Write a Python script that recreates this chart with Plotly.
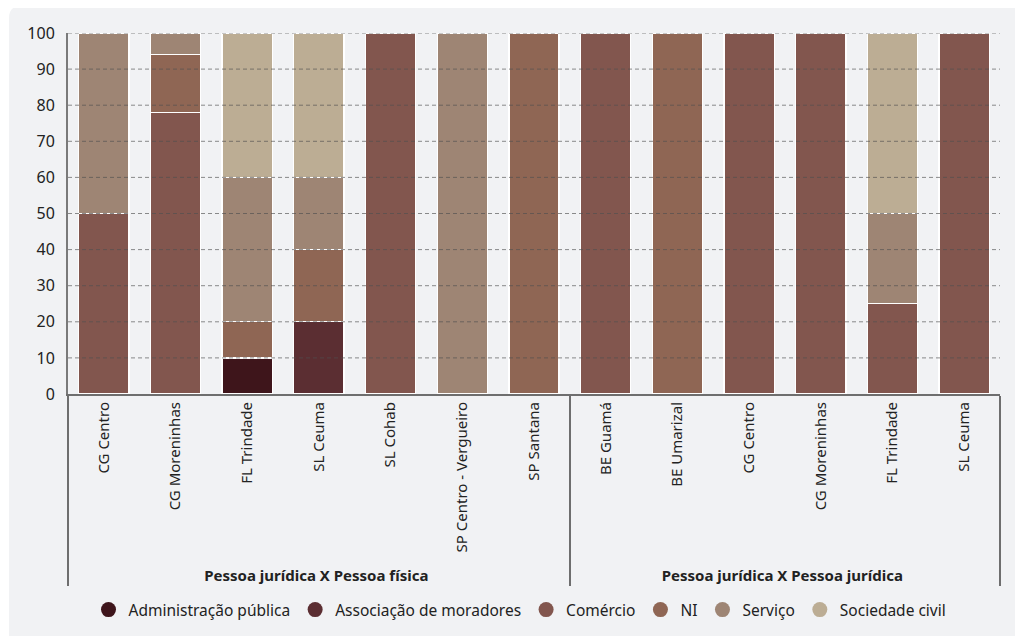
import plotly.graph_objects as go

# groups and stations (two-level x axis)
groups = ["Pessoa jurídica X Pessoa física"] * 7 + ["Pessoa jurídica X Pessoa jurídica"] * 6
stations = ["CG Centro", "CG Moreninhas", "FL Trindade", "SL Ceuma", "SL Cohab",
            "SP Centro - Vergueiro", "SP Santana",
            "BE Guamá", "BE Umarizal", "CG Centro", "CG Moreninhas", "FL Trindade", "SL Ceuma"]

# percentage shares per category
admin_publica = [0, 0, 10, 0, 0, 0, 0, 0, 0, 0, 0, 0, 0]
assoc_moradores = [0, 0, 0, 20, 0, 0, 0, 0, 0, 0, 0, 0, 0]
comercio = [50, 78, 0, 0, 100, 0, 0, 100, 0, 100, 100, 25, 100]
ni = [0, 16, 10, 20, 0, 0, 100, 0, 100, 0, 0, 0, 0]
servico = [50, 6, 40, 20, 0, 100, 0, 0, 0, 0, 0, 25, 0]
sociedade_civil = [0, 0, 40, 40, 0, 0, 0, 0, 0, 0, 0, 50, 0]

y_ticks = [0, 10, 20, 30, 40, 50, 60, 70, 80, 90, 100]

SERIES = [
    ("Administração pública", admin_publica, "#3e151b"),
    ("Associação de moradores", assoc_moradores, "#5b2e32"),
    ("Comércio", comercio, "#82564e"),
    ("NI", ni, "#8f6654"),
    ("Serviço", servico, "#9e8574"),
    ("Sociedade civil", sociedade_civil, "#bcad94"),
]

FONT = "Noto Sans"
group_labels = ["<b>" + g + "</b>" for g in groups]

# plotly orders multicategory sub-labels by first appearance, so repeated
# station names in the second group get a harmless span wrapper to stay unique
seen = set()
station_labels = []
for s in stations:
    station_labels.append(f"<span>{s}</span>" if s in seen else s)
    seen.add(s)

fig = go.Figure()
for name, vals, color in SERIES:
    fig.add_trace(go.Bar(
        x=[group_labels, station_labels],
        y=[v if v else None for v in vals],
        name=name,
        marker=dict(color=color, line=dict(color="white", width=1.3)),
        showlegend=False,
    ))

# legend entries with round markers
for name, vals, color in SERIES:
    fig.add_trace(go.Scatter(
        x=[[group_labels[0]], [station_labels[0]]], y=[None],
        mode="markers", name=name,
        marker=dict(symbol="circle", size=15, color=color),
    ))

# dashed grid drawn above the bars
for t in y_ticks[1:]:
    fig.add_hline(y=t, line=dict(color="rgba(80,80,80,0.65)", width=1, dash="4px,3px"),
                  layer="above")

# page body adds an 8px offset, so the figure is 8px smaller on each side
W, H = 1015, 628
L, R, T, B = 60, 23, 25, 242
pw, ph = W - L - R, H - T - B

# light panel behind everything
x0, x1 = (1 - L) / pw, (W + 20 - L) / pw
y0, y1 = -(B + 20) / ph, (ph + T + 2) / ph
dx, dy = 12 / pw, 12 / ph
fig.add_shape(type="path", xref="paper", yref="paper", layer="below",
              path=f"M {x0},{y1 - dy} Q {x0},{y1} {x0 + dx},{y1} L {x1},{y1} "
                   f"L {x1},{y0} L {x0},{y0} Z",
              fillcolor="#f1f2f4", line=dict(width=0))

fig.update_layout(
    barmode="stack",
    bargap=0.3,
    width=W, height=H,
    margin=dict(l=L, r=R, t=T, b=B),
    paper_bgcolor="white",
    plot_bgcolor="rgba(0,0,0,0)",
    font=dict(family=FONT, size=14, color="#222"),
    legend=dict(orientation="h", x=(512 - L) / pw, xanchor="center",
                yref="container", y=26 / H, yanchor="middle",
                bgcolor="rgba(0,0,0,0)", font=dict(size=15.5),
                itemwidth=30, traceorder="normal"),
    xaxis=dict(
        type="multicategory", tickangle=-90, showgrid=False,
        range=[-0.5, len(stations) - 0.5],
        showline=True, linecolor="#6e6e6e", linewidth=2,
        showdividers=True, dividercolor="#6e6e6e", dividerwidth=1.5,
        tickfont=dict(size=15, color="#222"),
        ticks="", automargin=False,
    ),
    yaxis=dict(
        range=[0, 100], tickvals=y_ticks, showgrid=False, zeroline=False,
        showline=True, linecolor="#7a7a7a", linewidth=2,
        ticks="", ticklabelstandoff=8,
        tickfont=dict(size=16, color="#222"), automargin=False,
    ),
)

fig.write_html("out.html")
